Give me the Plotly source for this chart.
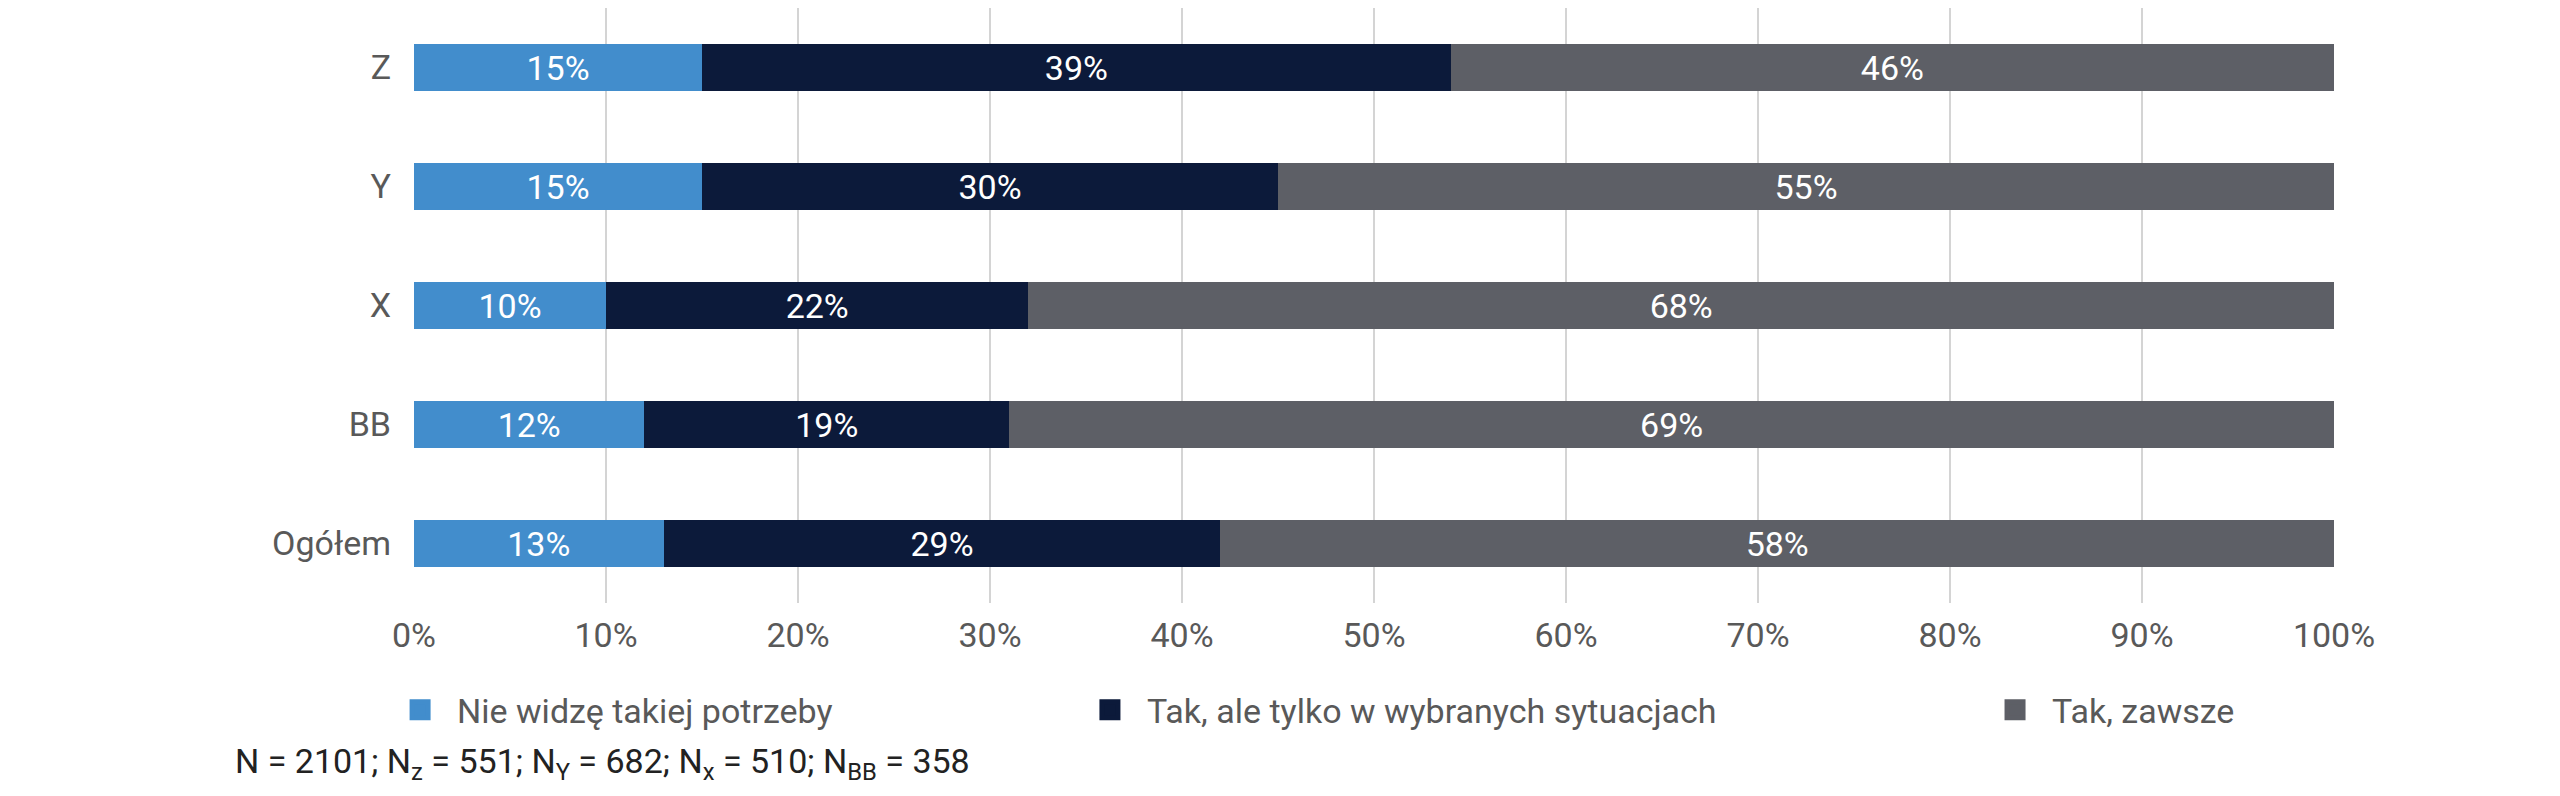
import plotly.graph_objects as go

# dane z wykresu (odsetki)
groups = ['Z', 'Y', 'X', 'BB', 'Ogółem']
series_names = ['Nie widzę takiej potrzeby',
                'Tak, ale tylko w wybranych sytuacjach',
                'Tak, zawsze']
nie_widze = [15, 15, 10, 12, 13]
tak_wybrane = [39, 30, 22, 19, 29]
tak_zawsze = [46, 55, 68, 69, 58]
x_ticks = [0, 10, 20, 30, 40, 50, 60, 70, 80, 90, 100]
x_tick_labels = ['0%', '10%', '20%', '30%', '40%', '50%', '60%', '70%', '80%', '90%', '100%']
footnote = 'N = 2101; N<sub>z</sub> = 551; N<sub>Y</sub> = 682; N<sub>x</sub> = 510; N<sub>BB</sub> = 358'

colors = ['#428DCC', '#0C1A3A', '#5D5F66']
legend_ids = ['legend', 'legend2', 'legend3']
FONT = 'Roboto, Arial, sans-serif'

fig = go.Figure()

for vals, name, col in zip([nie_widze, tak_wybrane, tak_zawsze], series_names, colors):
    fig.add_trace(go.Bar(
        x=vals,
        y=groups,
        orientation='h',
        name=name,
        marker=dict(color=col, line=dict(width=0)),
        width=0.4,
        text=vals,
        texttemplate='%{text}%',
        textposition='inside',
        insidetextanchor='middle',
        textfont=dict(color='white', size=34, family=FONT),
        showlegend=False,
    ))

# wpisy legendy (większe kwadraty niż domyślne dla słupków)
for name, col, lid in zip(series_names, colors, legend_ids):
    fig.add_trace(go.Scatter(
        x=[None], y=[None],
        mode='markers',
        name=name,
        marker=dict(symbol='square', size=16, color=col, line=dict(color=col, width=5)),
        legend=lid,
        showlegend=True,
    ))

legend_x = [-0.0161, 0.3432, 0.8146]
legend_common = dict(orientation='h', yanchor='middle', y=-0.18, xanchor='left',
                     font=dict(size=34, color='#595959', family=FONT),
                     itemwidth=64, bgcolor='rgba(0,0,0,0)', borderwidth=0)

# marginesy uwzględniają 8 px marginesu strony w przeglądarce
fig.update_layout(
    width=2560,
    height=796,
    barmode='stack',
    plot_bgcolor='white',
    paper_bgcolor='white',
    margin=dict(l=406, r=234, t=0, b=201),
    font=dict(family=FONT, size=34, color='#595959'),
    legend=dict(x=legend_x[0], **legend_common),
    legend2=dict(x=legend_x[1], **legend_common),
    legend3=dict(x=legend_x[2], **legend_common),
)

fig.update_xaxes(
    range=[0, 100],
    tickmode='array',
    tickvals=x_ticks,
    ticktext=x_tick_labels,
    showgrid=True,
    gridcolor='#D4D4D4',
    gridwidth=2,
    zeroline=False,
    showline=False,
    ticklabelstandoff=9,
    tickfont=dict(size=34, color='#595959'),
)
fig.update_yaxes(
    categoryorder='array',
    categoryarray=groups,
    autorange='reversed',
    showgrid=False,
    zeroline=False,
    showline=False,
    ticklabelstandoff=22,
    tickfont=dict(size=34, color='#595959'),
)

fig.add_annotation(
    text=footnote,
    xref='paper', yref='paper',
    x=-0.0943, y=-0.27,
    xanchor='left', yanchor='middle',
    showarrow=False,
    font=dict(size=34, color='#222222', family=FONT),
)

fig.write_html('out.html')
